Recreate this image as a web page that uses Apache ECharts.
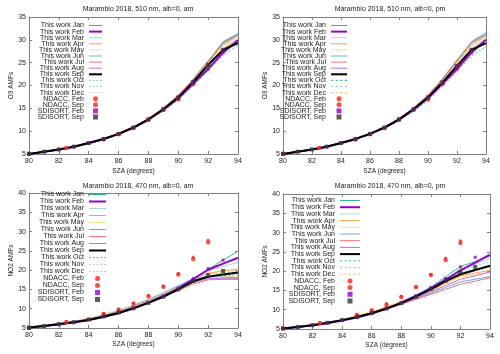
<!DOCTYPE html>
<html>
<head>
<meta charset="utf-8">
<script src="https://cdn.jsdelivr.net/npm/echarts@6/dist/echarts.min.js"></script>
<style>
  html, body { margin: 0; padding: 0; background: #fff; }
  #chart { width: 500px; height: 354px; }
</style>
</head>
<body>
<div id="chart"></div>
<script>
// SZA grid of the model curves and of the reference points
const sza = [80, 81, 82, 83, 84, 85, 86, 87, 88, 89, 90, 91, 92, 93, 94]
const sdiSza = [80, 81, 82, 83, 84, 85, 86, 87, 88, 89, 90, 91, 92, 93]
const ndaccSza = [80, 82.5, 85, 86, 87, 88, 89, 90, 91, 92]
const months = ['Jan', 'Feb', 'Mar', 'Apr', 'May', 'Jun', 'Jul', 'Aug', 'Sep', 'Oct', 'Nov', 'Dec']

const panelTitles = [
  'Marambio 2018, 510 nm, alb=0, am',
  'Marambio 2018, 510 nm, alb=0, pm',
  'Marambio 2018, 470 nm, alb=0, am',
  'Marambio 2018, 470 nm, alb=0, pm'
]
const yNames = ['O3 AMFs', 'O3 AMFs', 'NO2 AMFs', 'NO2 AMFs']
const yMax = [35, 35, 40, 40]

// O3, 510 nm, am (one row per month Jan..Dec)
const o3Am = [
  [5.0, 5.5, 6.0, 6.6, 7.4, 8.3, 9.4, 10.9, 12.7, 15.0, 17.8, 21.3, 25.2, 29.4, 31.3],
  [5.0, 5.5, 6.0, 6.6, 7.4, 8.3, 9.4, 10.8, 12.5, 14.7, 17.2, 20.4, 23.6, 27.2, 29.9],
  [5.0, 5.5, 6.0, 6.6, 7.4, 8.3, 9.4, 10.8, 12.6, 14.9, 17.6, 21.0, 24.8, 28.8, 30.6],
  [5.0, 5.5, 6.0, 6.6, 7.4, 8.3, 9.4, 10.9, 12.7, 15.0, 17.7, 21.2, 25.0, 29.0, 31.0],
  [5.0, 5.5, 6.0, 6.6, 7.4, 8.3, 9.4, 10.8, 12.6, 14.9, 17.5, 20.9, 24.6, 28.3, 30.3],
  [5.0, 5.5, 6.0, 6.6, 7.4, 8.3, 9.5, 10.9, 12.7, 15.0, 17.8, 21.3, 25.3, 29.6, 31.4],
  [5.0, 5.5, 6.0, 6.6, 7.4, 8.3, 9.5, 10.9, 12.8, 15.1, 17.9, 21.4, 25.4, 29.3, 31.0],
  [5.0, 5.5, 6.0, 6.6, 7.4, 8.3, 9.4, 10.8, 12.6, 14.9, 17.5, 20.8, 24.3, 28.0, 30.0],
  [5.0, 5.5, 6.0, 6.6, 7.4, 8.3, 9.4, 10.8, 12.6, 14.8, 17.4, 20.8, 24.5, 27.8, 29.3],
  [4.9, 5.4, 5.9, 6.5, 7.3, 8.1, 9.2, 10.6, 12.3, 14.4, 16.8, 20.0, 23.2, 26.6, 28.8],
  [5.0, 5.5, 6.0, 6.6, 7.3, 8.2, 9.3, 10.7, 12.5, 14.6, 17.1, 20.4, 24.0, 27.5, 29.6],
  [5.0, 5.5, 6.0, 6.6, 7.4, 8.3, 9.4, 10.8, 12.5, 14.7, 17.2, 20.6, 24.2, 28.0, 30.1]
]
// O3, 510 nm, pm
const o3Pm = [
  [5.0, 5.5, 6.0, 6.6, 7.4, 8.3, 9.4, 10.9, 12.7, 15.0, 17.8, 21.4, 25.4, 29.5, 31.5],
  [5.0, 5.5, 6.0, 6.6, 7.4, 8.3, 9.4, 10.8, 12.5, 14.7, 17.2, 20.4, 23.6, 27.2, 30.0],
  [5.0, 5.5, 6.0, 6.6, 7.4, 8.3, 9.4, 10.8, 12.6, 14.9, 17.6, 21.0, 24.8, 28.8, 30.7],
  [5.0, 5.5, 6.0, 6.6, 7.4, 8.3, 9.4, 10.9, 12.7, 15.0, 17.7, 21.2, 25.1, 29.1, 31.0],
  [5.0, 5.5, 6.0, 6.6, 7.4, 8.3, 9.4, 10.8, 12.6, 14.9, 17.5, 20.9, 24.6, 28.4, 30.4],
  [5.0, 5.5, 6.0, 6.6, 7.4, 8.3, 9.5, 10.9, 12.7, 15.0, 17.8, 21.4, 25.4, 29.6, 31.5],
  [5.0, 5.5, 6.0, 6.6, 7.4, 8.3, 9.5, 10.9, 12.8, 15.1, 17.9, 21.5, 25.6, 29.4, 31.1],
  [5.0, 5.5, 6.0, 6.6, 7.4, 8.3, 9.4, 10.8, 12.6, 14.9, 17.5, 20.8, 24.3, 28.0, 30.1],
  [5.0, 5.5, 6.0, 6.6, 7.4, 8.3, 9.4, 10.8, 12.6, 14.8, 17.4, 20.7, 24.3, 27.8, 29.3],
  [4.9, 5.4, 5.9, 6.5, 7.3, 8.1, 9.2, 10.6, 12.3, 14.3, 16.7, 19.8, 23.1, 26.4, 28.6],
  [5.0, 5.5, 6.0, 6.6, 7.3, 8.2, 9.3, 10.7, 12.5, 14.6, 17.1, 20.4, 24.0, 27.5, 29.7],
  [5.0, 5.5, 6.0, 6.6, 7.4, 8.3, 9.4, 10.8, 12.5, 14.7, 17.2, 20.6, 24.2, 28.0, 30.2]
]
// NO2, 470 nm, am
const no2Am = [
  [5.1, 5.5, 6.0, 6.6, 7.2, 8.0, 9.0, 10.3, 11.8, 13.5, 15.6, 17.8, 20.2, 22.6, 24.9],
  [5.1, 5.5, 6.0, 6.5, 7.1, 7.9, 8.9, 10.1, 11.6, 13.3, 15.3, 17.7, 20.1, 21.7, 23.2],
  [5.1, 5.6, 6.1, 6.6, 7.3, 8.1, 9.1, 10.4, 12.0, 13.7, 15.8, 17.9, 19.8, 20.9, 22.0],
  [5.2, 5.6, 6.1, 6.7, 7.4, 8.2, 9.3, 10.6, 12.1, 13.8, 15.6, 17.5, 19.2, 19.8, 20.3],
  [5.2, 5.7, 6.2, 6.8, 7.6, 8.6, 9.7, 11.0, 12.4, 13.9, 15.5, 17.2, 18.5, 18.4, 18.3],
  [5.1, 5.6, 6.1, 6.7, 7.4, 8.3, 9.4, 10.8, 12.4, 14.1, 16.0, 17.6, 18.4, 18.2, 18.0],
  [5.1, 5.5, 6.0, 6.5, 7.2, 8.0, 9.0, 10.2, 11.6, 13.1, 14.7, 16.4, 17.5, 17.6, 17.6],
  [5.1, 5.5, 6.0, 6.5, 7.2, 8.0, 9.0, 10.3, 11.7, 13.3, 15.1, 16.8, 17.8, 17.9, 17.9],
  [5.1, 5.5, 6.0, 6.5, 7.1, 7.9, 8.9, 10.1, 11.5, 13.1, 15.0, 17.1, 18.3, 18.9, 19.4],
  [5.0, 5.5, 6.0, 6.5, 7.1, 7.9, 8.9, 10.1, 11.5, 13.1, 15.1, 17.0, 18.3, 18.6, 18.8],
  [5.1, 5.5, 6.0, 6.6, 7.2, 8.0, 9.0, 10.3, 11.7, 13.4, 15.4, 17.4, 19.0, 19.3, 19.6],
  [5.1, 5.5, 6.0, 6.6, 7.2, 8.0, 9.1, 10.3, 11.8, 13.5, 15.5, 17.5, 18.9, 19.4, 19.9]
]
// NO2, 470 nm, pm
const no2Pm = [
  [5.1, 5.5, 6.0, 6.6, 7.3, 8.1, 9.2, 10.5, 12.0, 13.8, 15.8, 18.6, 21.2, 22.5, 23.9],
  [5.1, 5.5, 6.0, 6.5, 7.2, 8.0, 9.0, 10.3, 11.8, 13.6, 15.6, 17.8, 20.2, 22.2, 24.3],
  [5.1, 5.6, 6.1, 6.6, 7.3, 8.1, 9.2, 10.5, 12.0, 13.7, 15.5, 18.0, 20.4, 21.8, 23.3],
  [5.2, 5.6, 6.1, 6.7, 7.4, 8.3, 9.4, 10.7, 12.1, 13.6, 15.0, 17.0, 18.8, 19.5, 20.2],
  [5.2, 5.7, 6.2, 6.8, 7.5, 8.5, 9.6, 10.8, 12.1, 13.4, 14.8, 16.7, 18.5, 19.0, 19.6],
  [5.1, 5.6, 6.1, 6.6, 7.3, 8.1, 9.1, 10.3, 11.6, 12.9, 14.3, 15.8, 17.2, 17.9, 18.6],
  [5.1, 5.5, 6.0, 6.5, 7.2, 8.0, 9.0, 10.1, 11.4, 12.7, 14.0, 15.3, 16.6, 17.4, 18.3],
  [5.1, 5.5, 6.0, 6.5, 7.2, 8.0, 9.0, 10.2, 11.5, 13.0, 14.6, 16.3, 17.9, 18.8, 19.8],
  [5.1, 5.5, 6.0, 6.6, 7.3, 8.1, 9.1, 10.3, 11.7, 13.4, 15.3, 17.4, 19.2, 20.3, 21.4],
  [5.0, 5.5, 6.0, 6.6, 7.3, 8.1, 9.1, 10.3, 11.7, 13.5, 15.5, 17.8, 19.5, 20.4, 21.2],
  [5.1, 5.5, 6.0, 6.6, 7.3, 8.1, 9.1, 10.4, 11.8, 13.6, 15.6, 18.0, 20.0, 21.3, 22.5],
  [5.1, 5.5, 6.0, 6.6, 7.3, 8.2, 9.2, 10.4, 11.8, 13.5, 15.4, 17.4, 19.3, 20.1, 21.0]
]

// reference points: NDACC (Feb, Sep) and SDISORT (Feb, Sep), per panel
const ndaccFeb = [
  [5.1, 6.3, 8.2, 9.3, 10.7, 12.5, 14.6, 16.9, 20.3, 24.0],
  [5.1, 6.3, 8.2, 9.3, 10.7, 12.5, 14.6, 16.9, 20.3, 24.0],
  [5.3, 6.7, 8.8, 9.9, 11.5, 13.4, 15.9, 19.2, 23.4, 27.8],
  [5.3, 6.6, 8.8, 10.0, 11.6, 13.5, 16.0, 19.2, 23.4, 27.9]
]
const ndaccSep = [
  [5.1, 6.3, 8.2, 9.3, 10.7, 12.5, 14.7, 17.0, 20.4, 24.2],
  [5.1, 6.3, 8.2, 9.3, 10.7, 12.5, 14.7, 17.0, 20.4, 24.2],
  [5.2, 6.5, 8.6, 9.7, 11.3, 13.2, 15.7, 18.9, 22.9, 27.2],
  [5.2, 6.5, 8.6, 9.8, 11.3, 13.3, 15.8, 19.0, 22.9, 27.3]
]
const sdiFeb = [
  [5.0, 5.5, 6.0, 6.6, 7.4, 8.3, 9.4, 10.8, 12.5, 14.7, 17.2, 20.4, 23.6, 27.2],
  [5.0, 5.5, 6.0, 6.6, 7.4, 8.3, 9.4, 10.8, 12.5, 14.7, 17.2, 20.4, 23.6, 27.2],
  [5.0, 5.5, 6.0, 6.5, 7.2, 8.0, 9.0, 10.1, 11.6, 13.2, 15.3, 17.8, 20.4, 22.6],
  [5.1, 5.5, 6.0, 6.6, 7.3, 8.1, 9.1, 10.3, 11.8, 13.6, 15.7, 18.1, 21.1, 23.6]
]
const sdiSep = [
  [5.0, 5.5, 6.0, 6.6, 7.4, 8.3, 9.4, 10.8, 12.6, 14.8, 17.4, 20.8, 24.5, 27.8],
  [5.0, 5.5, 6.0, 6.6, 7.4, 8.3, 9.4, 10.8, 12.6, 14.8, 17.4, 20.7, 24.3, 27.8],
  [5.0, 5.5, 6.0, 6.5, 7.2, 8.0, 9.0, 10.1, 11.5, 13.1, 15.0, 17.2, 18.7, 19.8],
  [5.1, 5.5, 6.0, 6.6, 7.3, 8.1, 9.1, 10.3, 11.7, 13.4, 15.4, 17.5, 19.8, 21.1]
]

const monthColors = ['#2fb888', '#9400d3', '#a9d6ee', '#f2a444', '#f2e48c', '#6fa8dc',
  '#f27272', '#c46ae8', '#000000', '#3cc3a3', '#8ed0f0', '#f4c26c']
const panelData = [o3Am, o3Pm, no2Am, no2Pm]

const grids = [
  { left: 29, right: 262, top: 17, bottom: 200 },
  { left: 283, right: 14, top: 17, bottom: 200 },
  { left: 29, right: 262, top: 193, bottom: 26 },
  { left: 283, right: 10, top: 194, bottom: 25 }
]
const legendPos = [
  { right: 398, top: 22, iw: 13, gap: -0.9 },
  { right: 153, top: 22, iw: 16, gap: -0.9 },
  { right: 394, top: 191, iw: 17, gap: 0 },
  { right: 140, top: 197, iw: 20, gap: -0.3 }
]

const font = 'Liberation Sans, Arial, sans-serif'
const axisCol = '#808080'
const legendNames = months.map(m => 'This work ' + m)
  .concat(['NDACC, Feb', 'NDACC, Sep', 'SDISORT, Feb', 'SDISORT, Sep'])

const pairs = (xs, ys) => ys.map((y, i) => [xs[i], y])

// legend icon paths: plain / thick / dashed line samples, small marks
const lineIcon = (w, h) => 'path://M0,0h' + w + 'v' + h + 'h-' + w + 'z'
const dashIcon = w => {
  let d = ''
  for (let x = 0; x < w; x += 4) d += 'M' + x + ',0h2v1h-2z'
  return 'path://' + d
}
const legendData = iw => legendNames.map((n, i) => {
  if (i < 12) {
    const icon = i >= 9 ? dashIcon(iw) : lineIcon(iw, (i === 1 || i === 8) ? 2 : 1)
    return { name: n, icon: icon }
  }
  return { name: n, icon: i < 14 ? 'circle' : 'path://M0,0h1v1h-1z' }
})

const xAxes = []
const yAxes = []
const titles = []
const legends = []
const series = []
grids.forEach((g, p) => {
  const common = { gridIndex: p, type: 'value', min: 80, max: 94, interval: 2 }
  xAxes.push(Object.assign({}, common, {
    name: 'SZA (degrees)', nameLocation: 'middle', nameGap: p < 2 ? 14 : 13,
    nameTextStyle: { fontSize: 6.5, color: '#222', fontFamily: font },
    axisLine: { lineStyle: { color: axisCol } },
    axisTick: { inside: true, length: 3, lineStyle: { color: axisCol } },
    axisLabel: { fontSize: 7, color: '#222', margin: 4, fontFamily: font },
    splitLine: { show: false }
  }))
  yAxes.push({
    gridIndex: p, type: 'value', min: 5, max: yMax[p], interval: 5,
    name: yNames[p], nameLocation: 'middle', nameGap: 14,
    nameTextStyle: { fontSize: 6.5, color: '#222', fontFamily: font },
    axisLine: { show: true, lineStyle: { color: axisCol } },
    axisTick: { show: true, inside: true, length: 3, lineStyle: { color: axisCol } },
    axisLabel: { fontSize: 7, color: '#222', margin: 3, fontFamily: font },
    splitLine: { show: false }
  })
  titles.push({
    text: panelTitles[p], left: p % 2 === 0 ? 133 : 385, textAlign: 'center',
    top: p < 2 ? 1 : 178,
    textStyle: { fontSize: 7, fontWeight: 'normal', color: '#222', fontFamily: font }
  })
  const lp = legendPos[p]
  legends.push({
    data: legendData(lp.iw), orient: 'vertical', align: 'right',
    right: lp.right, top: lp.top, padding: 0, itemGap: lp.gap,
    itemWidth: lp.iw, itemHeight: 5, selectedMode: false,
    itemStyle: { borderWidth: 0 },
    textStyle: { fontSize: 7, width: 52, align: 'right', color: '#222', fontFamily: font }
  })
})
// mirror axes for the gnuplot-style box with inward ticks
grids.forEach((g, p) => {
  xAxes.push({
    gridIndex: p, type: 'value', min: 80, max: 94, interval: 2, position: 'top',
    axisLine: { lineStyle: { color: axisCol } },
    axisTick: { inside: true, length: 3, lineStyle: { color: axisCol } },
    axisLabel: { show: false }, splitLine: { show: false }
  })
  yAxes.push({
    gridIndex: p, type: 'value', min: 5, max: yMax[p], interval: 5, position: 'right',
    axisLine: { show: true, lineStyle: { color: axisCol } },
    axisTick: { show: true, inside: true, length: 3, lineStyle: { color: axisCol } },
    axisLabel: { show: false }, splitLine: { show: false }
  })
})

panelData.forEach((rows, p) => {
  rows.forEach((ys, m) => {
    const thick = m === 1 || m === 8
    series.push({
      type: 'line', name: legendNames[m], xAxisIndex: p, yAxisIndex: p,
      data: pairs(sza, ys), symbol: 'none', animation: false,
      color: monthColors[m],
      lineStyle: { width: thick ? 2 : 1, color: monthColors[m], type: m >= 9 ? [2, 2] : 'solid' },
      z: thick ? 3 : 2
    })
  })
  series.push({
    type: 'scatter', name: 'NDACC, Feb', xAxisIndex: p, yAxisIndex: p,
    data: pairs(ndaccSza, ndaccFeb[p]), symbol: 'circle', symbolSize: 3,
    itemStyle: { color: '#ff2020' }, animation: false, z: 4
  })
  series.push({
    type: 'scatter', name: 'NDACC, Sep', xAxisIndex: p, yAxisIndex: p,
    data: pairs(ndaccSza, ndaccSep[p]), symbol: 'circle', symbolSize: 4.5,
    itemStyle: { color: '#f02a20' }, animation: false, z: 4
  })
  series.push({
    type: 'scatter', name: 'SDISORT, Feb', xAxisIndex: p, yAxisIndex: p,
    data: pairs(sdiSza, sdiFeb[p]), symbol: 'rect', symbolSize: 3,
    itemStyle: { color: '#9400d3' }, animation: false, z: 5
  })
  series.push({
    type: 'scatter', name: 'SDISORT, Sep', xAxisIndex: p, yAxisIndex: p,
    data: pairs(sdiSza, sdiSep[p]), symbol: 'rect', symbolSize: 4,
    itemStyle: { color: '#333333' }, animation: false, z: 5
  })
})

const chart = echarts.init(document.getElementById('chart'), null, { renderer: 'canvas' })
chart.setOption({
  backgroundColor: '#ffffff',
  animation: false,
  title: titles,
  legend: legends,
  grid: grids,
  xAxis: xAxes,
  yAxis: yAxes,
  series: series
})
window.addEventListener('resize', () => chart.resize())
</script>
</body>
</html>
